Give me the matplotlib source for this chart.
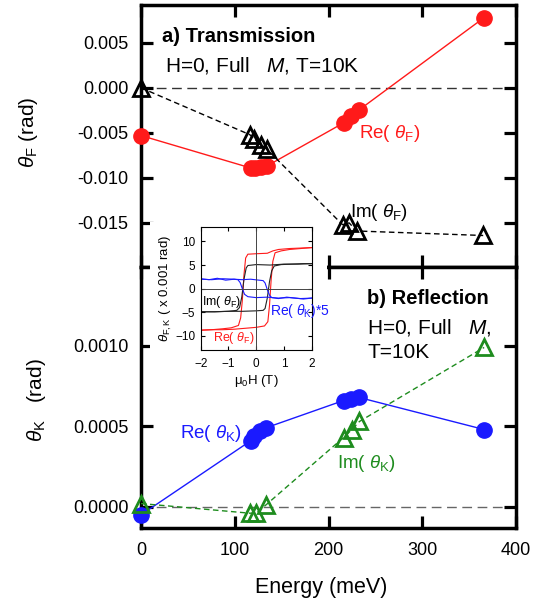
import matplotlib
matplotlib.use('Agg')
import matplotlib.pyplot as plt
from matplotlib.patches import Rectangle

plt.rcParams['font.family'] = ['Liberation Sans', 'DejaVu Sans']
plt.rcParams['mathtext.fontset'] = 'custom'
plt.rcParams['mathtext.rm'] = 'Liberation Sans'
plt.rcParams['mathtext.it'] = 'Liberation Sans:italic'
plt.rcParams['mathtext.bf'] = 'Liberation Sans:bold'

# ---------------- data ----------------
# (a) Transmission
re_F_E = [0, 117, 122, 128, 134, 216, 224, 232, 366]
re_F = [-0.0053, -0.0089, -0.0089, -0.0088, -0.0087, -0.0039, -0.0031, -0.0025, 0.0078]
im_F_E = [0, 116, 121, 128, 134, 215, 222, 230, 365]
im_F = [0.0, -0.0052, -0.0057, -0.0063, -0.0068, -0.0152, -0.0150, -0.0159, -0.0164]

# (b) Reflection
re_K_E = [0, 117, 121, 127, 133, 216, 224, 232, 366]
re_K = [-0.00005, 0.00041, 0.00044, 0.00047, 0.00049, 0.00066, 0.00067, 0.00068, 0.00048]
im_K_E = [0, 116, 123, 133, 216, 225, 233, 366]
im_K = [0.00002, -0.00004, -0.00004, 0.00001, 0.00043, 0.00048, 0.00053, 0.00099]

x_ticks = [0, 100, 200, 300, 400]
y1_ticks = [-0.015, -0.010, -0.005, 0.000, 0.005]
y2_ticks = [0.0000, 0.0005, 0.0010]

# inset hysteresis loops (x 0.001 rad vs mu0H in T)
red_up_H = [-2.0, -1.6, -1.2, -0.8, -0.4, 0.0, 0.3, 0.42, 0.48, 0.54, 0.60, 0.68, 0.9, 1.2, 1.6, 2.0]
red_up_V = [-8.8, -8.7, -8.7, -8.6, -8.4, -8.2, -7.9, -7.0, -3.5, 2.0, 5.8, 7.6, 8.0, 8.3, 8.5, 8.7]
red_dn_H = [2.0, 1.6, 1.2, 0.8, 0.6, 0.4, 0.0, -0.3, -0.38, -0.44, -0.50, -0.56, -0.64, -0.9, -1.2, -1.6, -2.0]
red_dn_V = [8.7, 8.6, 8.5, 8.3, 8.0, 7.5, 7.4, 7.3, 6.5, 3.0, -2.5, -6.2, -7.8, -8.3, -8.5, -8.7, -8.8]
blk_up_H = [-2.0, -1.5, -1.0, -0.5, 0.0, 0.25, 0.32, 0.40, 0.48, 0.56, 0.65, 0.9, 1.3, 1.7, 2.0]
blk_up_V = [-4.9, -4.9, -4.8, -4.8, -4.7, -4.6, -4.2, -2.0, 1.5, 3.8, 4.8, 5.1, 5.2, 5.3, 5.3]
blk_dn_H = [2.0, 1.5, 1.0, 0.5, 0.0, -0.3, -0.36, -0.44, -0.52, -0.60, -0.7, -1.0, -1.5, -2.0]
blk_dn_V = [5.3, 5.2, 5.2, 5.0, 5.1, 4.9, 4.4, 2.0, -1.8, -4.0, -4.6, -4.8, -4.9, -4.9]
blu_up_H = [-2.0, -1.7, -1.4, -1.1, -0.8, -0.5, -0.2, 0.1, 0.25, 0.32, 0.40, 0.48, 0.56, 0.8, 1.1, 1.4, 1.7, 2.0]
blu_up_V = [2.1, 1.9, 2.2, 1.8, 2.0, 1.9, 2.0, 1.8, 1.7, 1.2, -0.2, -1.4, -1.9, -2.1, -1.8, -2.0, -2.2, -2.0]
blu_dn_H = [2.0, 1.6, 1.2, 0.8, 0.4, 0.0, -0.3, -0.42, -0.50, -0.58, -0.66, -0.8, -1.2, -1.6, -2.0]
blu_dn_V = [-2.0, -2.1, -1.9, -2.0, -1.8, -1.9, -1.7, -1.2, 0.0, 1.3, 1.9, 2.0, 2.1, 1.9, 2.0]

# ---------------- figure ----------------
W, H = 542, 605
fig = plt.figure(figsize=(W / 100, H / 100), dpi=100)


def fx(x):
    return x / W


def fy(y):
    return 1 - y / H


L, R = 141, 516
T1, B1, B2 = 5, 267, 528
ax1 = fig.add_axes([fx(L), fy(B1), (R - L) / W, (B1 - T1) / H])
ax2 = fig.add_axes([fx(L), fy(B2), (R - L) / W, (B2 - B1) / H])

RED = '#ff1a1a'
BLUE = '#1a1aff'
GREEN = '#1e8c1e'

for ax in (ax1, ax2):
    for s in ax.spines.values():
        s.set_linewidth(2.5)
        s.set_zorder(2.5)
    ax.tick_params(direction='in', length=8.5, width=2.3, top=True, right=True,
                   labelsize=13, pad=9)
    ax.set_xlim(0, 400)
    ax.set_xticks(x_ticks)

# top panel
ax1.axhline(0, color='#333333', lw=1, dashes=(7, 4), zorder=1)
ax1.plot(re_F_E, re_F, '-', color=RED, lw=1, marker='o', ms=11, mec=RED, mfc=RED,
         zorder=3, clip_on=False)
ax1.plot(im_F_E, im_F, color='black', lw=1, dashes=(4, 2.5), marker='^', ms=12,
         mfc='none', mec='black', mew=2, zorder=4, clip_on=False)
ax1.set_ylim(-0.0199, 0.0092)
ax1.set_yticks(y1_ticks)
ax1.set_yticklabels(['%.3f' % v for v in y1_ticks])
ax1.tick_params(labelbottom=False)

# bottom panel
ax2.axhline(0, color='#666666', lw=1, dashes=(7, 4), zorder=1)
ax2.plot(re_K_E, re_K, '-', color=BLUE, lw=1, marker='o', ms=11, mec=BLUE, mfc=BLUE,
         zorder=3, clip_on=False)
ax2.plot(im_K_E, im_K, color=GREEN, lw=1, dashes=(4, 2.5), marker='^', ms=12,
         mfc='none', mec=GREEN, mew=2, zorder=4, clip_on=False)
ax2.set_ylim(-0.000132, 0.00149)
ax2.set_yticks(y2_ticks)
ax2.set_yticklabels(['%.4f' % v for v in y2_ticks])
ax2.tick_params(axis='x', pad=10)

# axis labels
fig.text(fx(29), fy(132), r'$\theta_{\rm F}$ (rad)', rotation=90, ha='center', va='center', fontsize=15)
fig.text(fx(37), fy(400), r'$\theta_{\rm K}$   (rad)', rotation=90, ha='center', va='center', fontsize=15)
fig.text(fx(321), fy(587), 'Energy (meV)', ha='center', va='center', fontsize=15.5)

# annotations
fig.text(fx(162), fy(36), 'a) Transmission', ha='left', va='center', fontsize=14.5, fontweight='bold')
fig.text(fx(165), fy(65), r'H=0, Full   $M$, T=10K', ha='left', va='center', fontsize=15)
fig.text(fx(367), fy(298), 'b) Reflection', ha='left', va='center', fontsize=14.5, fontweight='bold')
fig.text(fx(367), fy(327), r'H=0, Full   $M$,', ha='left', va='center', fontsize=15)
fig.text(fx(367), fy(353), 'T=10K', ha='left', va='center', fontsize=15)
fig.text(fx(359), fy(134), r'Re( $\theta_{\rm F}$)', color=RED, ha='left', va='center', fontsize=13.5)
fig.text(fx(350), fy(212), r'Im( $\theta_{\rm F}$)', color='black', ha='left', va='center', fontsize=13.5)
fig.text(fx(180), fy(434), r'Re( $\theta_{\rm K}$)', color=BLUE, ha='left', va='center', fontsize=13.5)
fig.text(fx(337), fy(463), r'Im( $\theta_{\rm K}$)', color=GREEN, ha='left', va='center', fontsize=13.5)

# white background of the inset
fig.add_artist(Rectangle((fx(150), fy(392)), (327 - 150) / W, (392 - 222) / H,
                         transform=fig.transFigure, facecolor='white', edgecolor='none', zorder=4))

# inset
axin = fig.add_axes([fx(200.7), fy(350), (311.7 - 200.7) / W, (350 - 227.3) / H], zorder=5)
axin.plot(red_up_H, red_up_V, color=RED, lw=0.8)
axin.plot(red_dn_H, red_dn_V, color=RED, lw=0.8)
axin.plot(blk_up_H, blk_up_V, color='#222222', lw=0.8)
axin.plot(blk_dn_H, blk_dn_V, color='#222222', lw=0.8)
axin.plot(blu_up_H, blu_up_V, color=BLUE, lw=0.8)
axin.plot(blu_dn_H, blu_dn_V, color=BLUE, lw=0.8)
axin.axhline(0, color='#444444', lw=0.7)
axin.axvline(0, color='#444444', lw=0.7)
axin.set_xlim(-2, 2)
axin.set_ylim(-13, 13)
axin.set_xticks([-2, -1, 0, 1, 2])
axin.set_yticks([-10, -5, 0, 5, 10])
for s in axin.spines.values():
    s.set_linewidth(0.8)
axin.tick_params(direction='in', length=3, width=0.8, top=True, right=True, labelsize=8.5, pad=4)
axin.tick_params(axis='x', pad=6)
axin.set_ylabel(r'$\theta_{\rm F,K}$ ( x 0.001 rad)', fontsize=9.5, labelpad=1)
axin.set_xlabel('\u03bc$_0$H (T)', fontsize=9.5, labelpad=2)
axin.text(0.01, 0.39, r'Im( $\theta_{\rm F}$)', transform=axin.transAxes, color='black',
          ha='left', va='center', fontsize=9)
axin.text(0.625, 0.32, r'Re( $\theta_{\rm K}$)*5', transform=axin.transAxes, color=BLUE,
          ha='left', va='center', fontsize=10, clip_on=False)
axin.text(0.11, 0.10, r'Re( $\theta_{\rm F}$)', transform=axin.transAxes, color=RED,
          ha='left', va='center', fontsize=9)

fig.savefig('out.png', dpi=100)
